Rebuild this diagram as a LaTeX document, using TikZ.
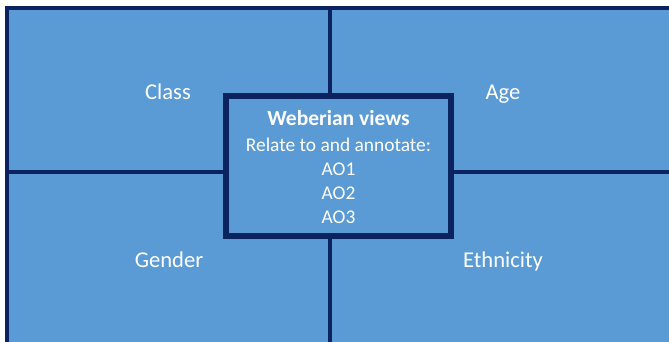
\documentclass[tikz,border=0pt]{standalone}
\usepackage{fontspec}
\setmainfont{Carlito}
\definecolor{quadblue}{HTML}{5B9BD5}
\definecolor{frameblue}{HTML}{0B2460}
\begin{document}
\begin{tikzpicture}[x=1pt,y=-1pt]
        \tikzstyle{label}=[text=white,anchor=base,font=\fontsize{22.6}{27}\selectfont];
        \tikzstyle{centrebox}=[draw=frameblue,line width=5.5pt,fill=quadblue,
          text=white,align=center,minimum width=225pt,minimum height=140pt,
          inner sep=0pt,font=\fontsize{19.4}{24}\selectfont];
        \useasboundingbox (0,0) rectangle (669,342);
        \clip (0,0) rectangle (669,342);
        % frame and quadrants
        \fill[quadblue] (7,8) rectangle (700,360);
        \draw[frameblue,line width=4pt] (7,360) -- (7,8) -- (700,8);
        \draw[frameblue,line width=4pt] (330,8) -- (330,360);
        \draw[frameblue,line width=4pt] (7,172) -- (700,172);

        \node[label](class) at (168,100) {Class};
        \node[label](age) at (503,100) {Age};
        \node[label](gender) at (169,267) {Gender};
        \node[label](ethnicity) at (503,267) {Ethnicity};

        \node[centrebox,text height=0pt](views) at (338.5,166) {};
        \node[text=white,align=center,font=\fontsize{19.4}{24}\selectfont](viewstext) at (338.5,167)
          {{\fontsize{21.5}{27}\selectfont\bfseries Weberian views}\\[2pt]Relate to and annotate:\\AO1\\AO2\\AO3};
      \end{tikzpicture}
\end{document}
